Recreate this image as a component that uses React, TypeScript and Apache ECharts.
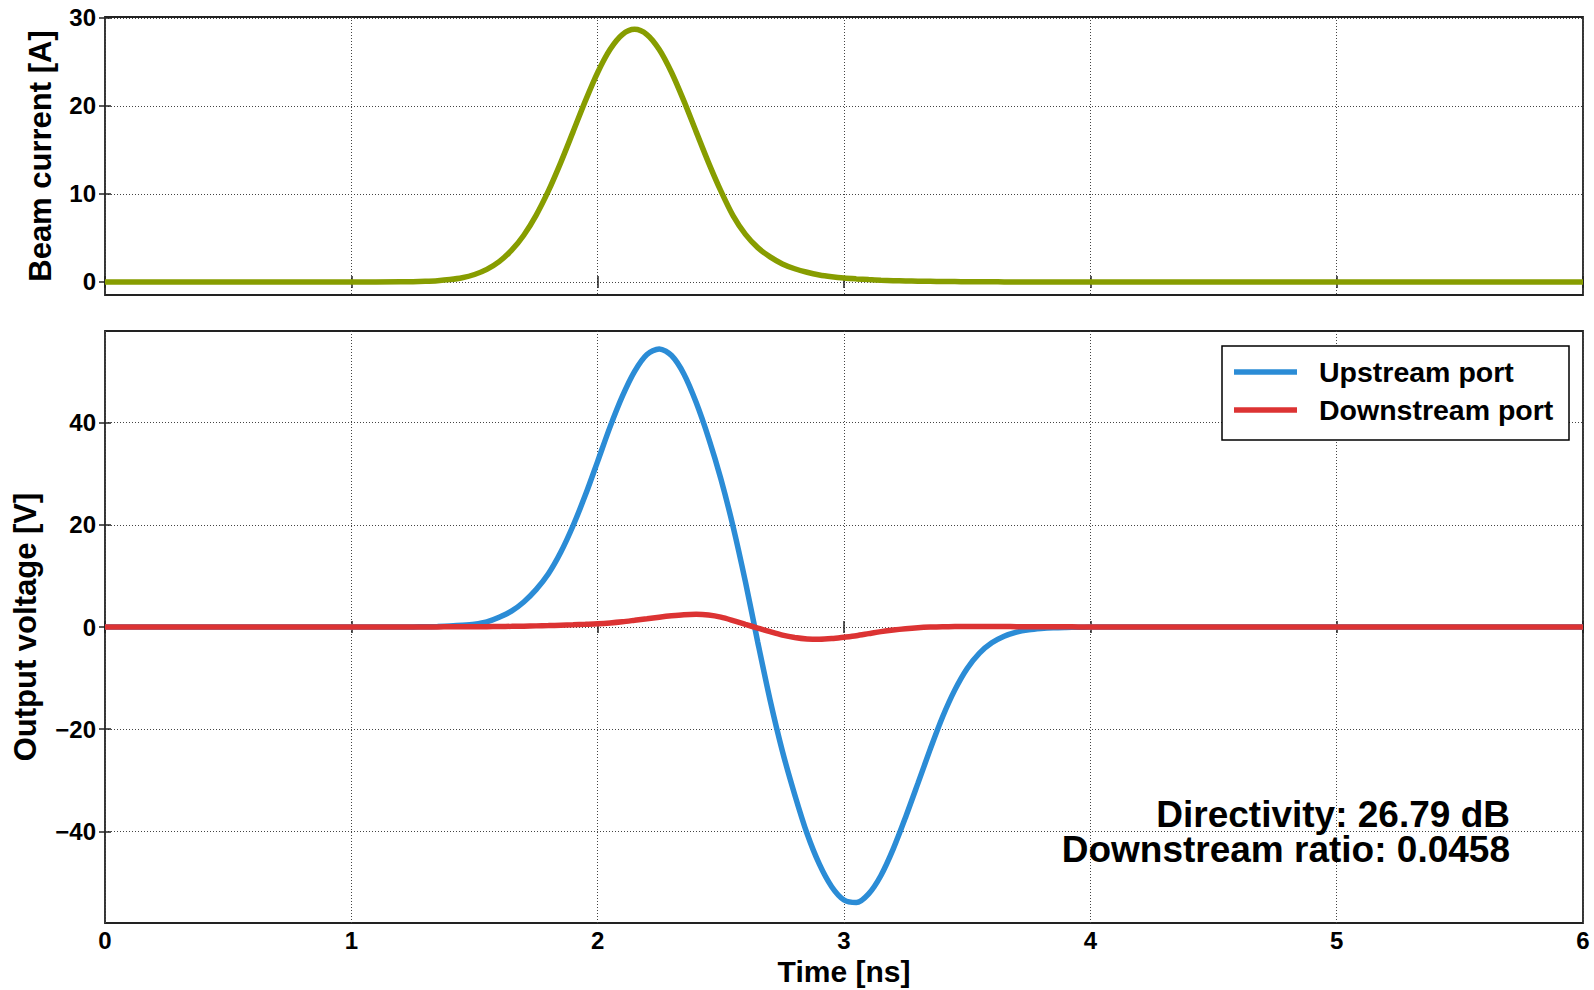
import React, { useEffect, useRef } from "react";
import * as echarts from "echarts";

// ---- data ----
const TIME = [
  0, 0.5, 1.0, 1.2, 1.25, 1.3, 1.35, 1.4, 1.45, 1.5, 1.55, 1.6, 1.65, 1.7, 1.75, 1.8, 1.85, 1.9, 1.95,
  2.0, 2.05, 2.1, 2.15, 2.2, 2.25, 2.3, 2.35, 2.4, 2.45, 2.5, 2.55, 2.6, 2.65, 2.7, 2.75, 2.8, 2.85,
  2.9, 2.95, 3.0, 3.05, 3.1, 3.15, 3.2, 3.25, 3.3, 3.35, 3.4, 3.45, 3.5, 3.55, 3.6, 3.65, 3.7, 3.75,
  3.8, 3.85, 3.9, 3.95, 4.0, 4.25, 4.5, 5.0, 5.5, 6.0,
];

const BEAM_CURRENT = [
  0, 0, 0, 0.02, 0.03, 0.07, 0.14, 0.27, 0.48, 0.85, 1.43, 2.31, 3.58, 5.31, 7.57, 10.34, 13.56, 17.05, 20.57,
  23.8, 26.41, 28.11, 28.7, 28.11, 26.41, 23.8, 20.57, 17.05, 13.56, 10.34, 7.5, 5.4, 3.9, 2.85, 2.05, 1.5, 1.1,
  0.8, 0.6, 0.45, 0.35, 0.27, 0.2, 0.15, 0.12, 0.09, 0.07, 0.05, 0.04, 0.03, 0.02, 0.02, 0.01, 0.01, 0.01,
  0, 0, 0, 0, 0, 0, 0, 0, 0, 0,
];

const UPSTREAM = [
  0, 0, 0, 0.01, 0.02, 0.05, 0.1, 0.18, 0.32, 0.55, 1.0, 1.9, 3.1, 4.9, 7.3, 10.4, 14.6, 19.8, 25.8,
  32.4, 39.1, 45.1, 50.0, 53.3, 54.4, 53.1, 49.5, 43.9, 37.0, 29.0, 19.6, 8.8, -3.0, -14.3, -24.3, -32.8, -40.4,
  -46.4, -50.8, -53.4, -53.9, -52.2, -48.6, -43.4, -37.2, -30.6, -23.9, -17.6, -12.3, -8.1, -5.1, -3.1, -1.8, -1.0, -0.55,
  -0.3, -0.15, -0.08, -0.04, -0.02, 0, 0, 0, 0, 0,
];

const DOWNSTREAM = [
  0, 0, 0, 0, 0, 0.01, 0.02, 0.03, 0.04, 0.05, 0.07, 0.1, 0.13, 0.17, 0.22, 0.28, 0.35, 0.42, 0.52,
  0.63, 0.8, 1.03, 1.32, 1.62, 1.92, 2.18, 2.38, 2.47, 2.33, 1.92, 1.25, 0.5, -0.2, -0.92, -1.58, -2.05, -2.33,
  -2.4, -2.27, -2.0, -1.7, -1.3, -0.9, -0.58, -0.33, -0.14, -0.02, 0.05, 0.09, 0.11, 0.11, 0.1, 0.09, 0.07, 0.06,
  0.05, 0.04, 0.03, 0.02, 0.01, 0, 0, 0, 0, 0,
];

const SERIES_NAMES = ["Upstream port", "Downstream port"];
const ANNOTATIONS = ["Directivity: 26.79 dB", "Downstream ratio: 0.0458"];

const X_TICKS = [0, 1, 2, 3, 4, 5, 6];
const TOP_Y_TICKS = [0, 10, 20, 30];
const BOTTOM_Y_TICKS = [-40, -20, 0, 20, 40];
const X_RANGE = [0, 6];
const TOP_Y_RANGE = [-1.48, 30.1];
const BOTTOM_Y_RANGE = [-57.9, 57.9];

const GREEN = "#879d00";
const BLUE = "#2b8cd6";
const RED = "#dc3333";
const FONT = "'Liberation Sans', Arial, sans-serif";

const fmtNum = (v: number | string) => String(Math.round(Number(v))).replace("-", "\u2212");

export default function App() {
  const ref = useRef<HTMLDivElement>(null);

  useEffect(() => {
    if (!ref.current) return;
    const chart = echarts.init(ref.current, undefined, { renderer: "svg" });

    const gridLine = { show: true, lineStyle: { color: "#444", width: 1, type: [1, 2] as any } };
    const tick = (values: number[]) => ({
      show: true,
      inside: true,
      length: 6,
      customValues: values,
      lineStyle: { color: "#222", width: 1.5 },
    });
    const labelBase = { color: "#000", fontSize: 24, fontWeight: "bold" as const, fontFamily: FONT };
    const nameStyle = { color: "#000", fontSize: 31, fontWeight: "bold" as const, fontFamily: FONT };

    const xAxisDef = (gridIndex: number, position: "top" | "bottom", labels: boolean, name?: string) => ({
      type: "value" as const,
      gridIndex,
      position,
      min: X_RANGE[0],
      max: X_RANGE[1],
      interval: 1,
      axisLine: { show: false },
      axisTick: tick(X_TICKS),
      splitLine: position === "bottom" ? gridLine : { show: false },
      axisLabel: labels
        ? { ...labelBase, margin: 5, customValues: X_TICKS, formatter: fmtNum }
        : { show: false },
      name,
      nameLocation: "middle" as const,
      nameGap: 33,
      nameTextStyle: { ...nameStyle, fontSize: 30 },
    });

    const yAxisDef = (
      gridIndex: number,
      position: "left" | "right",
      range: number[],
      step: number,
      ticks: number[],
      labels: boolean,
      name?: string,
      nameGap?: number
    ) => ({
      type: "value" as const,
      gridIndex,
      position,
      min: range[0],
      max: range[1],
      interval: step,
      axisLine: { show: false },
      axisTick: tick(ticks),
      splitLine: position === "left" ? gridLine : { show: false },
      axisLabel: labels
        ? { ...labelBase, show: true, margin: 9, customValues: ticks, formatter: fmtNum }
        : { show: false },
      name,
      nameLocation: "middle" as const,
      nameGap,
      nameTextStyle: nameStyle,
    });

    const toPairs = (vals: number[]) => TIME.map((t, i) => [t, vals[i]]);
    const lineSeries = (name: string, vals: number[], color: string, xi: number, yi: number) => ({
      type: "line" as const,
      name,
      data: toPairs(vals),
      xAxisIndex: xi,
      yAxisIndex: yi,
      showSymbol: false,
      symbol: "none",
      smooth: 0.3,
      lineStyle: { color, width: 5.5 },
      itemStyle: { color },
      clip: true,
    });

    const gridBase = {
      left: 105,
      width: 1478,
      show: true,
      borderColor: "#222",
      borderWidth: 1.8,
      backgroundColor: "transparent",
      containLabel: false,
      outerBoundsMode: "none",
    };

    chart.setOption({
      animation: false,
      backgroundColor: "#ffffff",
      grid: [
        { ...gridBase, top: 17, height: 278 },
        { ...gridBase, top: 331, height: 592 },
      ],
      xAxis: [
        xAxisDef(0, "bottom", false),
        xAxisDef(0, "top", false),
        xAxisDef(1, "bottom", true, "Time [ns]"),
        xAxisDef(1, "top", false),
      ],
      yAxis: [
        yAxisDef(0, "left", TOP_Y_RANGE, 10, TOP_Y_TICKS, true, "Beam current [A]", 49),
        yAxisDef(0, "right", TOP_Y_RANGE, 10, TOP_Y_TICKS, false),
        yAxisDef(1, "left", BOTTOM_Y_RANGE, 20, BOTTOM_Y_TICKS, true, "Output voltage [V]", 64),
        yAxisDef(1, "right", BOTTOM_Y_RANGE, 20, BOTTOM_Y_TICKS, false),
      ],
      series: [
        lineSeries("Beam current", BEAM_CURRENT, GREEN, 0, 0),
        lineSeries(SERIES_NAMES[0], UPSTREAM, BLUE, 2, 2),
        lineSeries(SERIES_NAMES[1], DOWNSTREAM, RED, 2, 2),
      ],
      graphic: [
        {
          type: "rect",
          z: 100,
          shape: { x: 1222, y: 346, width: 347, height: 94 },
          style: { fill: "#fff", stroke: "#000", lineWidth: 1.5 },
        },
        {
          type: "line",
          z: 101,
          shape: { x1: 1234, y1: 372, x2: 1297, y2: 372 },
          style: { stroke: BLUE, lineWidth: 5.5 },
        },
        {
          type: "line",
          z: 101,
          shape: { x1: 1234, y1: 410, x2: 1297, y2: 410 },
          style: { stroke: RED, lineWidth: 5.5 },
        },
        {
          type: "text",
          z: 101,
          x: 1319,
          y: 372,
          style: { text: SERIES_NAMES[0], fontSize: 28.5, fontWeight: "bold", fontFamily: FONT, fill: "#000", align: "left", verticalAlign: "middle" },
        },
        {
          type: "text",
          z: 101,
          x: 1319,
          y: 410,
          style: { text: SERIES_NAMES[1], fontSize: 28.5, fontWeight: "bold", fontFamily: FONT, fill: "#000", align: "left", verticalAlign: "middle" },
        },
        {
          type: "text",
          z: 101,
          x: 1510,
          y: 832,
          style: {
            text: ANNOTATIONS.join("\n"),
            fontSize: 37,
            lineHeight: 35,
            fontWeight: "bold",
            fontFamily: FONT,
            fill: "#000",
            align: "right",
            verticalAlign: "middle",
          },
        },
      ],
    });

    return () => chart.dispose();
  }, []);

  return (
    <div
      ref={ref}
      style={{ position: "fixed", left: 0, top: 0, width: 1594, height: 990, background: "#fff" }}
    />
  );
}
